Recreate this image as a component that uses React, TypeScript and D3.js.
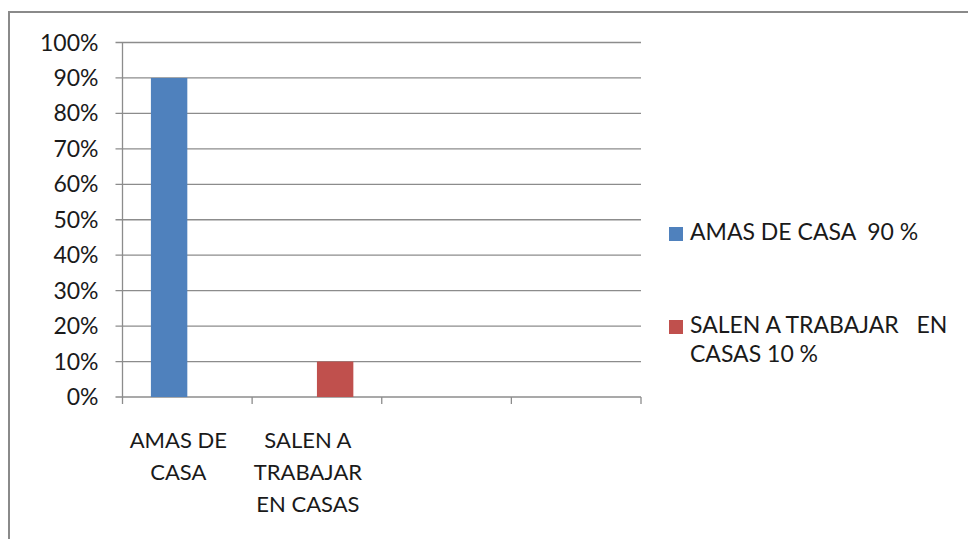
import React, { useEffect, useRef } from 'react';
import * as d3 from 'd3';

// categories on the x axis (last two slots are empty in the original chart)
const categories = ['AMAS DE CASA', 'SALEN A TRABAJAR EN CASAS', ' ', '  '];
const seriesNames = ['AMAS DE CASA  90 %', 'SALEN A TRABAJAR   EN CASAS 10 %'];
const seriesColors = ['#4F81BD', '#C0504D'];
const amasDeCasa = [0.9, 0, null, null];
const salenATrabajar = [0, 0.1, null, null];
const yTicks = [0, 0.1, 0.2, 0.3, 0.4, 0.5, 0.6, 0.7, 0.8, 0.9, 1.0];

const FONT = 'Lato, Calibri, Carlito, sans-serif';

const wrapText = (textSel, str, maxWidth, lineHeight) => {
  const words = str.split(' ');
  let line = [];
  let tspan = textSel.append('tspan').attr('x', textSel.attr('x')).attr('dy', 0);
  words.forEach(w => {
    line.push(w);
    tspan.text(line.join(' '));
    if (tspan.node().getComputedTextLength() > maxWidth && line.length > 1) {
      line.pop();
      tspan.text(line.join(' ').trimEnd());
      line = [w];
      tspan = textSel.append('tspan').attr('x', textSel.attr('x')).attr('dy', lineHeight).text(w);
    }
  });
};

const App = () => {
  const ref = useRef(null);

  useEffect(() => {
    document.body.style.margin = '0';
    const width = 968;
    const height = 539;
    const plot = { left: 122.5, right: 641, top: 42.5, bottom: 397 };

    d3.select(ref.current).select('svg').remove();
    const svg = d3.select(ref.current)
      .append('svg')
      .attr('width', width)
      .attr('height', height)
      .style('display', 'block')
      .style('font-family', FONT);

    svg.append('rect').attr('width', width).attr('height', height).attr('fill', '#fff');

    // chart border (runs off the right and bottom edge in the reference)
    svg.append('rect')
      .attr('x', 9).attr('y', 12)
      .attr('width', 1000).attr('height', 600)
      .attr('fill', 'none')
      .attr('stroke', '#8a8a8a')
      .attr('stroke-width', 2);

    const x0 = d3.scaleBand()
      .domain(categories)
      .range([plot.left, plot.right])
      .paddingInner(0)
      .paddingOuter(0);

    const x1 = d3.scaleBand()
      .domain(seriesNames)
      .range([0, x0.bandwidth()])
      .paddingInner(0)
      .paddingOuter(0.78);

    const y = d3.scaleLinear().domain([0, 1]).range([plot.bottom, plot.top]);

    // gridlines
    svg.append('g')
      .selectAll('line')
      .data(yTicks)
      .enter().append('line')
      .attr('x1', plot.left - 7)
      .attr('x2', plot.right)
      .attr('y1', d => y(d))
      .attr('y2', d => y(d))
      .attr('stroke', '#8c8c8c')
      .attr('stroke-width', 1.3);

    // y axis line
    svg.append('line')
      .attr('x1', plot.left).attr('x2', plot.left)
      .attr('y1', plot.top).attr('y2', plot.bottom)
      .attr('stroke', '#8c8c8c').attr('stroke-width', 1.3);

    // y tick labels
    svg.append('g')
      .selectAll('text')
      .data(yTicks)
      .enter().append('text')
      .attr('x', plot.left - 24)
      .attr('y', d => y(d))
      .attr('dy', '0.35em')
      .attr('text-anchor', 'end')
      .attr('font-size', 23)
      .attr('fill', '#1a1a1a')
      .text(d => d3.format('.0%')(d));

    // x tick marks at band edges
    const edges = categories.map(c => x0(c)).concat([plot.right]);
    svg.append('g')
      .selectAll('line')
      .data(edges)
      .enter().append('line')
      .attr('x1', d => d).attr('x2', d => d)
      .attr('y1', plot.bottom).attr('y2', plot.bottom + 7)
      .attr('stroke', '#8c8c8c').attr('stroke-width', 1.3);

    // bars
    const seriesData = [amasDeCasa, salenATrabajar];
    seriesData.forEach((vals, si) => {
      svg.append('g')
        .selectAll('rect')
        .data(vals.map((v, i) => ({ cat: categories[i], v })).filter(d => d.v != null && d.v > 0))
        .enter().append('rect')
        .attr('x', d => x0(d.cat) + x1(seriesNames[si]))
        .attr('y', d => y(d.v))
        .attr('width', x1.bandwidth())
        .attr('height', d => y(0) - y(d.v))
        .attr('fill', seriesColors[si]);
    });

    // x category labels
    categories.forEach(c => {
      if (!c.trim()) return;
      const t = svg.append('text')
        .attr('x', x0(c) + x0.bandwidth() / 2 - 9)
        .attr('y', 448)
        .attr('text-anchor', 'middle')
        .attr('font-size', 22)
        .attr('fill', '#1a1a1a');
      wrapText(t, c, 118, 32);
    });

    // legend
    const legend = svg.append('g');
    const legendY = [240, 333];
    seriesNames.forEach((name, i) => {
      legend.append('rect')
        .attr('x', 669)
        .attr('y', legendY[i] - 13)
        .attr('width', 14)
        .attr('height', 14)
        .attr('fill', seriesColors[i]);
      const t = legend.append('text')
        .attr('x', 690)
        .attr('y', legendY[i])
        .attr('font-size', 23)
        .attr('fill', '#1a1a1a')
        .attr('xml:space', 'preserve')
        .style('white-space', 'pre');
      wrapText(t, name, 268, 29);
    });
  }, []);

  return <div ref={ref}></div>;
};

export default App;
